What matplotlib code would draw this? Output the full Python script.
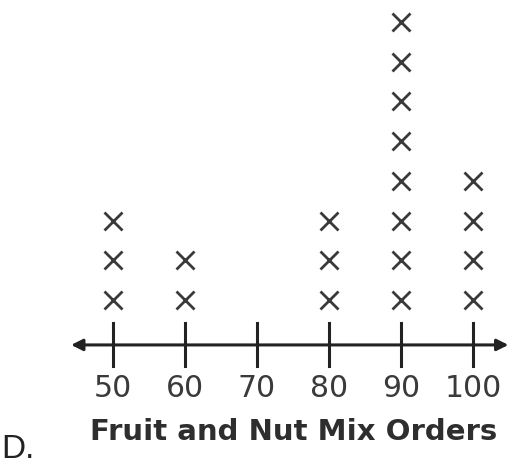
import matplotlib.pyplot as plt
from matplotlib.patches import FancyArrowPatch

# line plot data: orders and how many X marks each gets
orders = [50, 60, 70, 80, 90, 100]
counts = [3, 2, 0, 3, 8, 4]
title = 'Fruit and Nut Mix Orders'
choice = 'D.'

ink = '#3a3a3a'

fig = plt.figure(figsize=(5.16, 4.66), dpi=100)
ax = fig.add_axes([0, 0, 1, 1])
ax.set_xlim(-1.569, 5.597)
ax.set_ylim(-3.05, 8.69)
ax.axis('off')

# X marks stacked above each value
for i, n in enumerate(counts):
    ys = [k + 1.134 for k in range(n)]
    ax.plot([i] * n, ys, linestyle='none', marker='x', markersize=12.5,
            markeredgewidth=2, color=ink)

# number line with arrows both ends
arr = FancyArrowPatch((-0.62, 0), (5.53, 0), arrowstyle='<|-|>',
                      mutation_scale=17, color='#222222', linewidth=2.2)
ax.add_patch(arr)

for i, v in enumerate(orders):
    ax.plot([i, i], [-0.52, 0.55], color='#222222', linewidth=2.2)
    ax.text(i, -1.31, str(v), ha='center', va='baseline', fontsize=21.5,
            color=ink)

ax.text(2.507, -2.39, title, ha='center', va='baseline', fontsize=21,
        fontweight='bold', color='#2e2e2e')
ax.text(-1.545, -2.85, choice, ha='left', va='baseline', fontsize=24,
        family='Liberation Sans', color='#222222')

fig.savefig('out.png', dpi=100)
